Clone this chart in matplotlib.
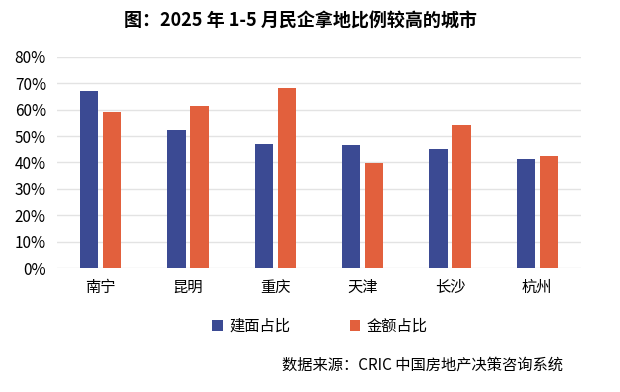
import numpy as np
import matplotlib
matplotlib.use("Agg")
import matplotlib.pyplot as plt
from matplotlib.ticker import PercentFormatter

plt.rcParams['font.family'] = ['Noto Sans CJK SC', 'DejaVu Sans']

cities = ["南宁", "昆明", "重庆", "天津", "长沙", "杭州"]
area_share = [67.2, 52.2, 46.9, 46.6, 45.2, 41.2]
amount_share = [59.2, 61.5, 68.3, 39.9, 54.2, 42.5]
series_names = ["建面占比", "金额占比"]

blue = "#3B4A93"
orange = "#E2603D"

fig = plt.figure(figsize=(6.2, 3.92), dpi=100)
ax = fig.add_axes([0.092, 0.316, 0.845, 0.539])

x = np.arange(len(cities))
w = 0.21
ax.bar(x - 0.133, area_share, w, color=blue, label=series_names[0], zorder=3)
ax.bar(x + 0.133, amount_share, w, color=orange, label=series_names[1], zorder=3)

ax.set_xlim(-0.5, len(cities) - 0.5)
ax.set_ylim(0, 80)
ax.set_yticks(np.arange(0, 81, 10))
ax.yaxis.set_major_formatter(PercentFormatter(decimals=0))
ax.set_xticks(x)
ax.set_xticklabels(cities, fontsize=11)
ax.tick_params(axis='y', labelsize=11, length=0, pad=8)
ax.tick_params(axis='x', length=0, pad=8)
ax.grid(axis='y', color="#E3E3E3", linewidth=1, zorder=0)
for s in ax.spines.values():
    s.set_visible(False)

fig.text(0.485, 0.945, "图：2025 年 1-5 月民企拿地比例较高的城市", ha='center', va='center',
         fontsize=13, fontweight='bold')
fig.legend(loc='center', bbox_to_anchor=(0.516, 0.168), ncol=2, frameon=False,
           fontsize=11, handlelength=0.7, handleheight=0.7, columnspacing=3.9, handletextpad=0.4)
fig.text(0.908, 0.068, "数据来源：CRIC 中国房地产决策咨询系统", ha='right', va='center', fontsize=11)

fig.savefig("out.png", dpi=100, facecolor='white')
